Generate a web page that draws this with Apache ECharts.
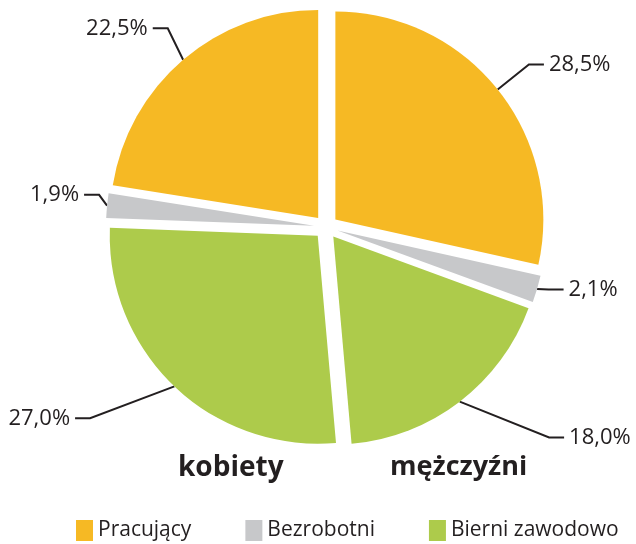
<!DOCTYPE html>
<html>
<head>
<meta charset="utf-8">
<script src="https://cdn.jsdelivr.net/npm/echarts@6/dist/echarts.min.js"></script>
<style>
  html, body { margin: 0; padding: 0; background: #fff; }
  #chart { width: 636px; height: 544px; }
</style>
</head>
<body>
<div id="chart"></div>
<script>
// slices clockwise from the top: men first, then women
const categories = ['Pracujący', 'Bezrobotni', 'Bierni zawodowo'];
const sliceNames = ['Pracujący', 'Bezrobotni', 'Bierni zawodowo', 'Bierni zawodowo', 'Bezrobotni', 'Pracujący'];
const sliceValues = [28.5, 2.1, 18.0, 27.0, 1.9, 22.5];
const groupLabels = ['kobiety', 'mężczyźni'];

const colors = {
  'Pracujący': '#f6b924',
  'Bezrobotni': '#c7c8ca',
  'Bierni zawodowo': '#adcb4b'
};
// leader line lengths and label nudges per slice
const lineLen = [40, 12, 45, 44, 8, 36];
const shiftX = [0, 0, 62, -54, 0, 8];
const shiftY = [0, -3, 0, 0, -10, -4];

const font = '"Open Sans", sans-serif';
const ink = '#231f20';

const chart = echarts.init(document.getElementById('chart'), null, { renderer: 'canvas' });

const data = sliceValues.map((v, i) => ({
  name: sliceNames[i],
  value: v,
  selected: true,
  itemStyle: { color: colors[sliceNames[i]] },
  labelLine: { length: lineLen[i], length2: 15 }
}));

chart.setOption({
  animation: false,
  legend: {
    data: categories,
    left: 76,
    top: 520,
    width: 560,
    padding: 0,
    icon: 'rect',
    itemWidth: 17,
    itemHeight: 21,
    itemGap: 54,
    selectedMode: false,
    textStyle: { fontFamily: font, fontSize: 21, color: ink }
  },
  graphic: [
    {
      type: 'text', left: 178, top: 454,
      style: { text: groupLabels[0], font: 'bold 28px "Open Sans", sans-serif', fill: ink }
    },
    {
      type: 'text', left: 390, top: 454,
      style: { text: groupLabels[1], font: 'bold 27px "Open Sans", sans-serif', fill: ink }
    }
  ],
  series: [{
    type: 'pie',
    center: [326, 227],
    radius: 208,
    startAngle: 90,
    clockwise: true,
    selectedMode: 'multiple',
    selectedOffset: 12,
    silent: true,
    emphasis: { disabled: true },
    label: {
      position: 'outside',
      alignTo: 'none',
      fontFamily: font,
      fontSize: 22,
      color: ink,
      padding: [0, 0, 14, 0],
      formatter: p => p.value.toFixed(1).replace('.', ',') + '%'
    },
    labelLine: {
      show: true,
      lineStyle: { color: ink, width: 2 }
    },
    labelLayout: p => {
      const dx = shiftX[p.dataIndex];
      const dy = shiftY[p.dataIndex];
      if ((!dx && !dy) || !p.labelLinePoints) return {};
      const pts = p.labelLinePoints;
      return {
        dx: dx,
        dy: dy,
        labelLinePoints: [
          [pts[0][0], pts[0][1]],
          [pts[1][0] + dx, pts[1][1] + dy],
          [pts[2][0] + dx, pts[2][1] + dy]
        ]
      };
    },
    data: data
  }]
});
</script>
</body>
</html>
